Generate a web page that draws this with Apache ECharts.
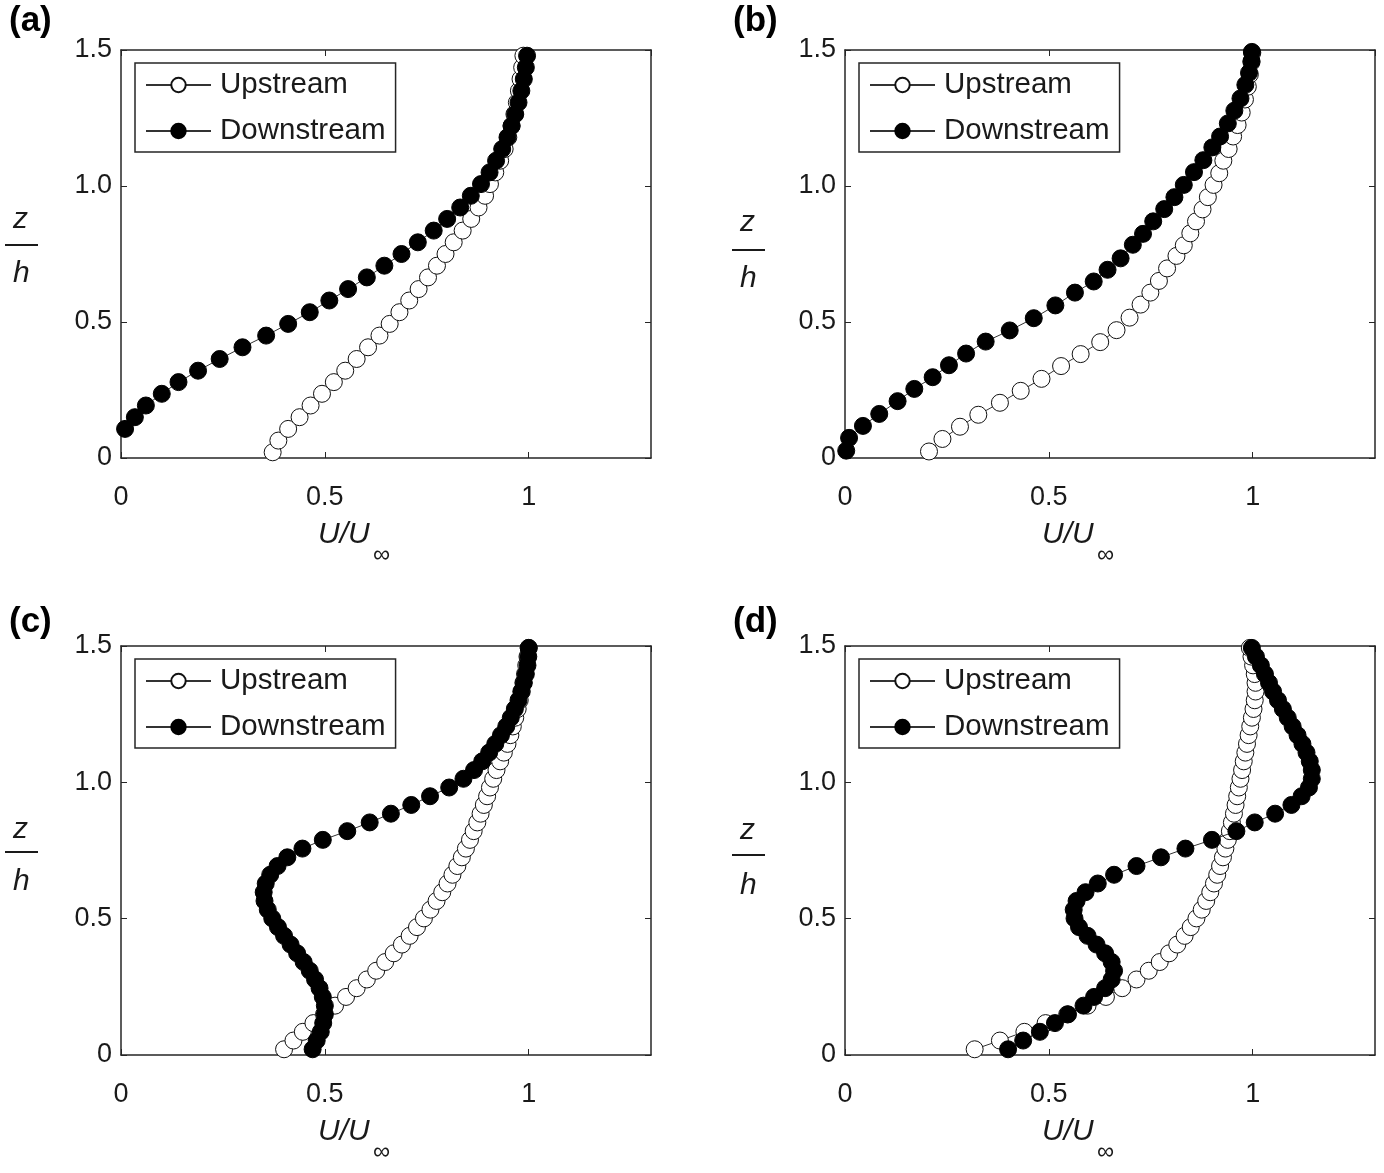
<!DOCTYPE html>
<html>
<head>
<meta charset="utf-8">
<script src="https://cdn.jsdelivr.net/npm/echarts@6/dist/echarts.min.js"></script>
<style>
html,body{margin:0;padding:0;background:#fff;}
#chart{width:1384px;height:1173px;}
</style>
</head>
<body>
<div id="chart"></div>
<script>
// ---------------- DATA ----------------
const seriesNames = ['Upstream', 'Downstream'];
const panelLetters = ['(a)', '(b)', '(c)', '(d)'];
const xTicks = [0, 0.5, 1];
const yTicks = [0, 0.5, 1.0, 1.5];

// panel (a): [U/Uinf, z/h]
const aUp = [[0.372,0.021],[0.386,0.064],[0.410,0.107],[0.438,0.150],[0.465,0.193],[0.493,0.236],[0.522,0.279],[0.550,0.321],[0.578,0.364],[0.606,0.407],[0.634,0.450],[0.659,0.493],[0.683,0.536],[0.707,0.579],[0.730,0.621],[0.753,0.664],[0.775,0.707],[0.796,0.750],[0.816,0.793],[0.838,0.836],[0.859,0.879],[0.877,0.921],[0.893,0.964],[0.905,1.007],[0.918,1.050],[0.930,1.093],[0.941,1.136],[0.950,1.179],[0.958,1.221],[0.965,1.264],[0.971,1.307],[0.976,1.350],[0.980,1.393],[0.984,1.436],[0.987,1.479]];
const aDown = [[0.010,0.107],[0.034,0.150],[0.061,0.193],[0.100,0.236],[0.141,0.279],[0.189,0.321],[0.242,0.364],[0.298,0.407],[0.356,0.450],[0.410,0.493],[0.463,0.536],[0.511,0.579],[0.557,0.621],[0.603,0.664],[0.646,0.707],[0.688,0.750],[0.728,0.793],[0.767,0.836],[0.800,0.879],[0.832,0.921],[0.858,0.964],[0.883,1.007],[0.904,1.050],[0.920,1.093],[0.935,1.136],[0.948,1.179],[0.958,1.221],[0.967,1.264],[0.975,1.307],[0.982,1.350],[0.988,1.393],[0.993,1.436],[0.996,1.479]];

// panel (b)
const bUp = [[0.206,0.024],[0.239,0.070],[0.282,0.115],[0.327,0.159],[0.380,0.203],[0.431,0.247],[0.482,0.291],[0.530,0.338],[0.578,0.382],[0.626,0.426],[0.666,0.470],[0.698,0.516],[0.725,0.564],[0.749,0.608],[0.770,0.651],[0.790,0.697],[0.813,0.743],[0.831,0.782],[0.847,0.826],[0.861,0.870],[0.877,0.914],[0.890,0.959],[0.904,1.004],[0.918,1.047],[0.928,1.093],[0.941,1.136],[0.952,1.182],[0.963,1.224],[0.973,1.270],[0.981,1.318],[0.988,1.365],[0.993,1.410],[0.997,1.455],[0.999,1.490]];
const bDown = [[0.003,0.027],[0.010,0.074],[0.044,0.118],[0.084,0.162],[0.129,0.209],[0.170,0.254],[0.215,0.297],[0.255,0.341],[0.297,0.384],[0.345,0.428],[0.404,0.469],[0.463,0.514],[0.516,0.561],[0.564,0.608],[0.610,0.649],[0.644,0.692],[0.676,0.734],[0.706,0.784],[0.731,0.824],[0.756,0.870],[0.783,0.915],[0.808,0.959],[0.831,1.004],[0.856,1.051],[0.879,1.095],[0.901,1.142],[0.920,1.182],[0.939,1.230],[0.955,1.277],[0.970,1.322],[0.982,1.372],[0.991,1.416],[0.997,1.459],[0.998,1.493]];

// panel (c)
const cUp = [[0.400,0.021],[0.423,0.053],[0.446,0.085],[0.472,0.117],[0.498,0.149],[0.525,0.181],[0.552,0.213],[0.578,0.245],[0.603,0.277],[0.626,0.309],[0.648,0.341],[0.669,0.373],[0.689,0.405],[0.708,0.437],[0.726,0.469],[0.743,0.501],[0.759,0.533],[0.774,0.565],[0.788,0.597],[0.801,0.629],[0.813,0.661],[0.825,0.693],[0.836,0.725],[0.846,0.757],[0.856,0.789],[0.865,0.821],[0.874,0.853],[0.882,0.885],[0.890,0.917],[0.898,0.949],[0.905,0.981],[0.913,1.013],[0.921,1.045],[0.930,1.077],[0.939,1.109],[0.948,1.141],[0.955,1.173],[0.961,1.205],[0.967,1.237],[0.973,1.269],[0.978,1.301],[0.983,1.333],[0.987,1.365],[0.991,1.397],[0.994,1.429],[0.997,1.461],[1.000,1.493]];
const cDown = [[0.470,0.021],[0.480,0.053],[0.490,0.085],[0.496,0.117],[0.500,0.149],[0.500,0.181],[0.495,0.213],[0.487,0.245],[0.476,0.277],[0.463,0.309],[0.448,0.341],[0.432,0.373],[0.416,0.405],[0.400,0.437],[0.385,0.469],[0.371,0.501],[0.360,0.533],[0.352,0.565],[0.350,0.597],[0.355,0.629],[0.366,0.661],[0.384,0.693],[0.408,0.725],[0.445,0.757],[0.495,0.789],[0.555,0.821],[0.610,0.853],[0.662,0.885],[0.712,0.917],[0.758,0.949],[0.805,0.981],[0.840,1.013],[0.866,1.045],[0.886,1.077],[0.903,1.109],[0.918,1.141],[0.932,1.173],[0.945,1.205],[0.956,1.237],[0.966,1.269],[0.975,1.301],[0.982,1.333],[0.988,1.365],[0.993,1.397],[0.997,1.429],[0.999,1.461],[1.000,1.493]];

// panel (d)
const dUp = [[0.318,0.021],[0.380,0.053],[0.440,0.085],[0.492,0.117],[0.545,0.149],[0.595,0.181],[0.640,0.213],[0.680,0.245],[0.715,0.277],[0.745,0.309],[0.772,0.341],[0.795,0.373],[0.815,0.405],[0.833,0.437],[0.848,0.469],[0.862,0.501],[0.875,0.533],[0.886,0.565],[0.896,0.597],[0.905,0.629],[0.913,0.661],[0.920,0.693],[0.927,0.725],[0.933,0.757],[0.939,0.789],[0.944,0.821],[0.949,0.853],[0.954,0.885],[0.958,0.917],[0.962,0.949],[0.966,0.981],[0.970,1.013],[0.974,1.045],[0.978,1.077],[0.982,1.109],[0.986,1.141],[0.990,1.173],[0.994,1.205],[0.998,1.237],[1.002,1.269],[1.005,1.301],[1.007,1.333],[1.007,1.365],[1.005,1.397],[1.001,1.429],[0.997,1.461],[0.993,1.493]];
const dDown = [[0.400,0.021],[0.437,0.053],[0.478,0.085],[0.515,0.117],[0.547,0.149],[0.585,0.181],[0.611,0.213],[0.638,0.245],[0.654,0.277],[0.660,0.309],[0.654,0.341],[0.638,0.373],[0.617,0.405],[0.595,0.437],[0.574,0.469],[0.563,0.501],[0.561,0.533],[0.568,0.565],[0.590,0.597],[0.620,0.629],[0.660,0.661],[0.715,0.693],[0.775,0.725],[0.835,0.757],[0.900,0.789],[0.960,0.821],[1.005,0.853],[1.055,0.885],[1.095,0.917],[1.120,0.949],[1.138,0.981],[1.145,1.013],[1.145,1.045],[1.140,1.077],[1.132,1.109],[1.122,1.141],[1.110,1.173],[1.098,1.205],[1.086,1.237],[1.074,1.269],[1.062,1.301],[1.050,1.333],[1.040,1.365],[1.030,1.397],[1.020,1.429],[1.008,1.461],[0.998,1.493]];

const panelData = [[aUp, aDown], [bUp, bDown], [cUp, cDown], [dUp, dDown]];

// ---------------- LAYOUT ----------------
const FONT = '"Liberation Sans", Arial, Helvetica, sans-serif';
const TXT = '#1a1a1a';
const grids = [
  {left: 121, top: 50, width: 530, height: 408},
  {left: 845, top: 50, width: 530, height: 408},
  {left: 121, top: 646, width: 530, height: 409},
  {left: 845, top: 646, width: 530, height: 409}
];
// vertical placement of the z/h label pieces (z top, bar y, h top) and panel letter top
const yLabelPos = [
  {x: 21, zTop: 205, bar: 245, hTop: 259, letterTop: 4},
  {x: 748, zTop: 208, bar: 250, hTop: 264, letterTop: 4},
  {x: 21, zTop: 815, bar: 852, hTop: 867, letterTop: 605},
  {x: 748, zTop: 816, bar: 855, hTop: 871, letterTop: 605}
];

const option = {
  backgroundColor: '#ffffff',
  animation: false,
  textStyle: {fontFamily: FONT},
  grid: grids.map(g => ({left: g.left, top: g.top, width: g.width, height: g.height, containLabel: false})),
  xAxis: [],
  yAxis: [],
  series: [],
  legend: [],
  graphic: []
};

const axisLineStyle = {show: true, onZero: false, lineStyle: {color: '#262626', width: 1.5}};
const tickStyle = {show: true, inside: true, length: 6, lineStyle: {color: '#262626', width: 1}};

grids.forEach((g, i) => {
  option.xAxis.push({
    type: 'value', gridIndex: i, min: 0, max: 1.3, interval: 0.5, position: 'bottom',
    axisLine: axisLineStyle, axisTick: tickStyle, splitLine: {show: false},
    axisLabel: {show: true, margin: 26, fontSize: 27, color: TXT, fontFamily: FONT, showMaxLabel: false,
      formatter: v => (xTicks.indexOf(v) >= 0 ? String(v) : '')}
  });
  option.xAxis.push({
    type: 'value', gridIndex: i, min: 0, max: 1.3, interval: 0.5, position: 'top',
    axisLine: axisLineStyle, axisTick: tickStyle, splitLine: {show: false}, axisLabel: {show: false}
  });
  option.yAxis.push({
    type: 'value', gridIndex: i, min: 0, max: 1.5, interval: 0.5, position: 'left',
    axisLine: axisLineStyle, axisTick: tickStyle, splitLine: {show: false},
    axisLabel: {show: true, margin: 9, fontSize: 27, color: TXT, fontFamily: FONT,
      formatter: v => (v === 0 ? '0' : v.toFixed(1))}
  });
  option.yAxis.push({
    type: 'value', gridIndex: i, min: 0, max: 1.5, interval: 0.5, position: 'right',
    axisLine: axisLineStyle, axisTick: tickStyle, splitLine: {show: false}, axisLabel: {show: false}
  });

  const [up, down] = panelData[i];
  option.series.push({
    name: seriesNames[0], type: 'line', xAxisIndex: 2 * i, yAxisIndex: 2 * i,
    data: up, symbol: 'circle', symbolSize: 17, showSymbol: true,
    lineStyle: {color: '#333333', width: 1},
    itemStyle: {color: '#ffffff', borderColor: '#111111', borderWidth: 1},
    z: 2
  });
  option.series.push({
    name: seriesNames[1], type: 'line', xAxisIndex: 2 * i, yAxisIndex: 2 * i,
    data: down, symbol: 'circle', symbolSize: 17, showSymbol: true,
    lineStyle: {color: '#333333', width: 1},
    itemStyle: {color: '#000000', borderColor: '#000000', borderWidth: 1},
    z: 3
  });

  option.legend.push({
    data: seriesNames, orient: 'vertical',
    left: g.left + 14, top: g.top + 13,
    padding: [7, 10, 6, 10], itemGap: 16, itemWidth: 65, itemHeight: 18,
    borderColor: '#262626', borderWidth: 1.5, backgroundColor: '#ffffff',
    textStyle: {fontSize: 29.5, color: TXT, fontFamily: FONT, lineHeight: 30, padding: [0, 0, 0, 4]},
    selectedMode: false
  });

  const p = yLabelPos[i];
  option.graphic.push({type: 'text', left: p.x - 8, top: p.zTop,
    style: {text: 'z', font: 'italic 30px ' + FONT, fill: TXT}});
  option.graphic.push({type: 'line', shape: {x1: p.x - 16, y1: p.bar, x2: p.x + 17, y2: p.bar},
    style: {stroke: TXT, lineWidth: 2}});
  option.graphic.push({type: 'text', left: p.x - 8, top: p.hTop,
    style: {text: 'h', font: 'italic 30px ' + FONT, fill: TXT}});
  option.graphic.push({type: 'text', left: g.left + 197, top: g.top + g.height + 62,
    style: {text: 'U/U', font: 'italic 30px ' + FONT, fill: TXT}});
  option.graphic.push({type: 'text', left: g.left + 252, top: g.top + g.height + 85,
    style: {text: '∞', font: '24px ' + FONT, fill: TXT}});
  option.graphic.push({type: 'text', left: i % 2 === 0 ? 9 : 733, top: p.letterTop,
    style: {text: panelLetters[i], font: 'bold 35px ' + FONT, fill: '#000'}});
});

const chart = echarts.init(document.getElementById('chart'), null, {renderer: 'canvas'});
chart.setOption(option);
</script>
</body>
</html>
